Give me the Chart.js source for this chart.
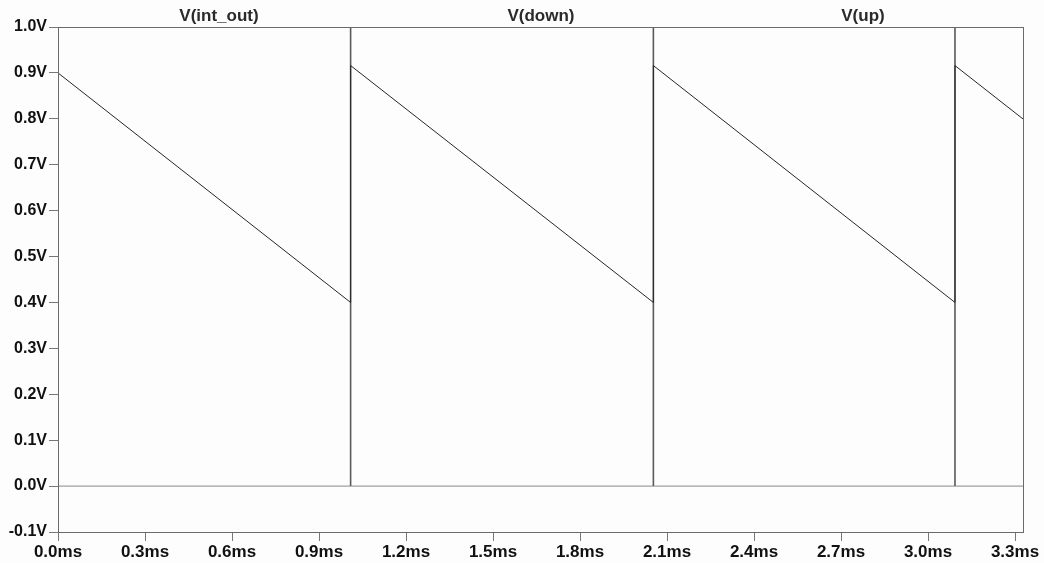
<!DOCTYPE html>
<html>
<head>
<meta charset="utf-8">
<script src="https://cdn.jsdelivr.net/npm/chart.js@4/dist/chart.umd.min.js"></script>
<style>
  html, body { margin: 0; padding: 0; background: #fdfdfd; }
  #wrap { width: 1044px; height: 563px; }
</style>
</head>
<body>
<div id="wrap"><canvas id="c" width="1044" height="563"></canvas></div>
<script>
// Transient sweep, time in ms
const timeMax = 3.331;

// V(int_out): integrator ramp, reset at each comparator edge
const intTime = [0.0, 1.009, 1.009, 2.053, 2.053, 3.093, 3.093, 3.331];
const intVolt = [0.900, 0.400, 0.916, 0.400, 0.916, 0.400, 0.916, 0.798];

// V(down): short pulses at the reset instants
const downEdges = [1.009, 2.053, 3.093];
const downLow = 0.0;
const downHigh = 1.0;

// V(up): stays low for the whole run
const upTime = [0.0, 3.331];
const upVolt = [0.0, 0.0];

// Axis tick values
const xTicks = [0.0, 0.3, 0.6, 0.9, 1.2, 1.5, 1.8, 2.1, 2.4, 2.7, 3.0, 3.3];
const yTicks = [-0.1, 0.0, 0.1, 0.2, 0.3, 0.4, 0.5, 0.6, 0.7, 0.8, 0.9, 1.0];

const seriesNames = ['V(int_out)', 'V(down)', 'V(up)'];

const intData = intTime.map((t, i) => ({ x: t, y: intVolt[i] }));
const downData = [];
downEdges.forEach(t => {
  downData.push({ x: t, y: downLow }, { x: t, y: downHigh }, { x: t, y: null });
});
const upData = upTime.map((t, i) => ({ x: t, y: upVolt[i] }));

const FONT = '"Liberation Sans", Arial, sans-serif';

// Frame around the plot area and trace names along the top
const framePlugin = {
  id: 'frame',
  afterDraw(chart) {
    const { ctx, chartArea: a } = chart;
    ctx.save();
    ctx.strokeStyle = '#6a6a6a';
    ctx.lineWidth = 1;
    ctx.strokeRect(a.left + 0.5, a.top + 0.5, a.right - a.left - 1, a.bottom - a.top);
    ctx.fillStyle = '#2a2a2a';
    ctx.font = 'bold 17px ' + FONT;
    ctx.textAlign = 'center';
    ctx.textBaseline = 'middle';
    const w = a.right - a.left;
    chart.data.datasets.forEach((ds, i) => {
      ctx.fillText(ds.label, a.left + w * (i + 0.5) / 3, 16);
    });
    ctx.restore();
  }
};

const bg = {
  id: 'bg',
  beforeDraw(chart) {
    const { ctx } = chart;
    ctx.save();
    ctx.fillStyle = '#fdfdfd';
    ctx.fillRect(0, 0, chart.width, chart.height);
    ctx.restore();
  }
};

new Chart(document.getElementById('c'), {
  type: 'line',
  data: {
    datasets: [
      { label: seriesNames[0], data: intData, borderColor: '#262626', borderWidth: 1, pointRadius: 0, tension: 0 },
      { label: seriesNames[1], data: downData, borderColor: '#5a5a5a', borderWidth: 1.6, pointRadius: 0, tension: 0, spanGaps: false },
      { label: seriesNames[2], data: upData, borderColor: '#a0a0a0', borderWidth: 1.3, pointRadius: 0, tension: 0 }
    ]
  },
  options: {
    responsive: false,
    devicePixelRatio: 1,
    animation: false,
    layout: { padding: { top: 27, right: 20, left: 0, bottom: 0 } },
    plugins: { legend: { display: false }, title: { display: false }, tooltip: { enabled: false } },
    scales: {
      x: {
        type: 'linear',
        min: 0,
        max: timeMax,
        afterBuildTicks: s => { s.ticks = xTicks.map(v => ({ value: v })); },
        afterFit: s => { s.height = 31; },
        border: { display: false },
        grid: { drawOnChartArea: false, drawTicks: true, tickLength: 9, tickColor: '#777', tickWidth: 1 },
        ticks: {
          color: '#111',
          padding: 1,
          maxRotation: 0,
          autoSkip: false,
          font: { family: FONT, size: 17, weight: 'bold' },
          callback: v => v.toFixed(1) + 'ms'
        }
      },
      y: {
        type: 'linear',
        min: -0.1,
        max: 1.0,
        afterBuildTicks: s => { s.ticks = yTicks.map(v => ({ value: v })); },
        afterFit: s => { s.width = 58; },
        border: { display: false },
        grid: { drawOnChartArea: false, drawTicks: true, tickLength: 9, tickColor: '#777', tickWidth: 1 },
        ticks: {
          color: '#111',
          padding: 2,
          autoSkip: false,
          font: { family: FONT, size: 16, weight: 'bold' },
          callback: v => v.toFixed(1) + 'V'
        }
      }
    }
  },
  plugins: [bg, framePlugin]
});
</script>
</body>
</html>
